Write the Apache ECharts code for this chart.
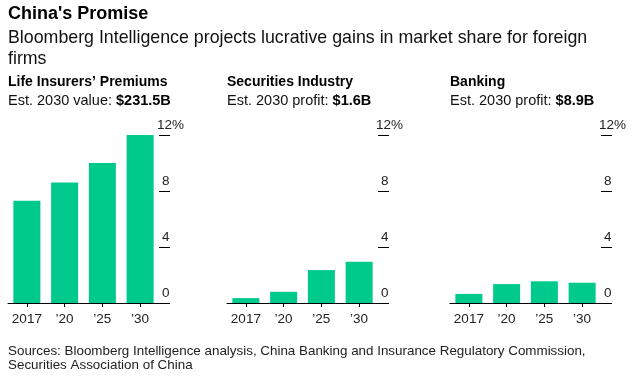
<!DOCTYPE html>
<html>
<head>
<meta charset="utf-8">
<script src="https://cdn.jsdelivr.net/npm/echarts@6/dist/echarts.min.js"></script>
<style>
  html, body { margin: 0; padding: 0; background: #fff; }
  #main { width: 637px; height: 376px; }
</style>
</head>
<body>
<div id="main"></div>
<script>
// data (foreign firms' market share, %)
const years = ['2017', '\u201920', '\u201925', '\u201930'];
const lifeInsurers = [7.3, 8.6, 10.0, 12.0];
const securities = [0.35, 0.8, 2.35, 2.95];
const banking = [0.65, 1.35, 1.55, 1.45];

const panelNames = ['Life Insurers\u2019 Premiums', 'Securities Industry', 'Banking'];
const panelNotes = [['value', '$231.5B'], ['profit', '$1.6B'], ['profit', '$8.9B']];
const panelData = [lifeInsurers, securities, banking];

const font = 'Liberation Sans, Arial, Helvetica, sans-serif';
const green = '#00c98c';
const lefts = [8, 227, 450];
const gridW = 151;

const chart = echarts.init(document.getElementById('main'), null, { renderer: 'canvas' });

let grids = [], xAxes = [], yAxes = [], series = [];
let titles = [
  { text: "China's Promise", left: 8, top: 4, padding: 0,
    textStyle: { fontFamily: font, fontSize: 18, fontWeight: 'bold', color: '#000', lineHeight: 21 } },
  { text: 'Bloomberg Intelligence projects lucrative gains in market share for foreign\nfirms', left: 8, top: 28, padding: 0,
    textStyle: { fontFamily: font, fontSize: 17.8, fontWeight: 'normal', color: '#111', lineHeight: 20.5 } },
  { text: 'Sources: Bloomberg Intelligence analysis, China Banking and Insurance Regulatory Commission,\nSecurities Association of China',
    left: 8, top: 344, padding: 0,
    textStyle: { fontFamily: font, fontSize: 13.4, fontWeight: 'normal', color: '#222', lineHeight: 14 } }
];

for (let i = 0; i < 3; i++) {
  titles.push({
    text: panelNames[i], left: lefts[i], top: 74, padding: 0,
    textStyle: { fontFamily: font, fontSize: 14, fontWeight: 'bold', color: '#000', lineHeight: 17 }
  });
  titles.push({
    text: '{n|Est. 2030 ' + panelNotes[i][0] + ': }{b|' + panelNotes[i][1] + '}', left: lefts[i], top: 92, padding: 0,
    textStyle: {
      rich: {
        n: { fontFamily: font, fontSize: 14.5, fontWeight: 'normal', color: '#111', lineHeight: 17 },
        b: { fontFamily: font, fontSize: 14.5, fontWeight: 'bold', color: '#000', lineHeight: 17 }
      }
    }
  });

  grids.push({ left: lefts[i], width: gridW, top: 135, height: 168 });
  xAxes.push({
    gridIndex: i, type: 'category', data: years,
    axisLine: { lineStyle: { color: '#000', width: 1 } },
    axisTick: { show: true, alignWithLabel: true, length: 4, lineStyle: { color: '#000' } },
    axisLabel: { color: '#222', fontFamily: font, fontSize: 13.5, margin: 9, interval: 0 }
  });
  yAxes.push({
    gridIndex: i, type: 'value', position: 'right', min: 0, max: 12, interval: 4,
    splitLine: { show: false },
    axisLine: { show: false },
    axisTick: { show: true, length: 11, lineStyle: { color: '#000' } },
    axisLabel: {
      margin: -2, verticalAlign: 'bottom', color: '#222', fontFamily: font, fontSize: 13.5,
      formatter: v => v === 12 ? '{t|12%}' : '{d|' + v + '}',
      rich: {
        t: { fontFamily: font, fontSize: 13.5, color: '#222', padding: [0, 0, 3, 0] },
        d: { fontFamily: font, fontSize: 13.5, color: '#222', padding: [0, 0, 3, 5] }
      }
    }
  });
  series.push({
    type: 'bar', xAxisIndex: i, yAxisIndex: i, data: panelData[i],
    barWidth: 27, itemStyle: { color: green }, silent: true
  });
}

const option = {
  backgroundColor: '#fff',
  animation: false,
  title: titles,
  grid: grids,
  xAxis: xAxes,
  yAxis: yAxes,
  series: series
};
chart.setOption(option);
</script>
</body>
</html>
